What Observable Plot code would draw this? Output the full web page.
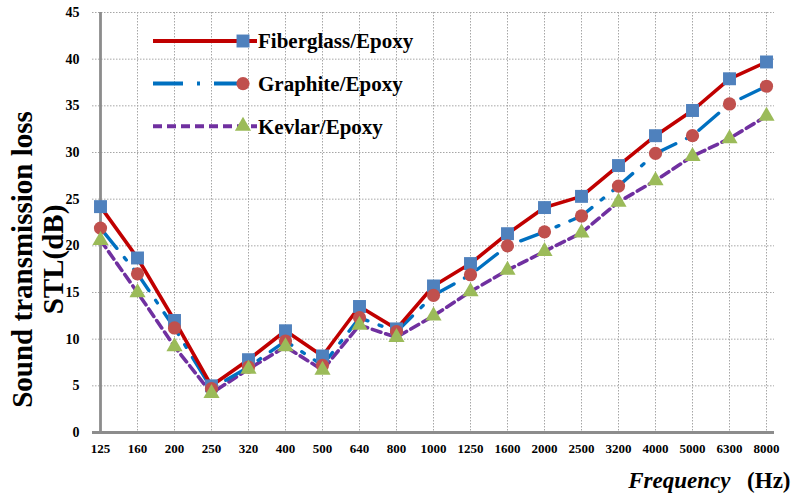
<!DOCTYPE html>
<html>
<head>
<meta charset="utf-8">
<script src="https://cdn.jsdelivr.net/npm/d3@7"></script>
<script src="https://cdn.jsdelivr.net/npm/@observablehq/plot@0.6"></script>
<style>
  html, body { margin: 0; padding: 0; background: #fff; }
  #chart { position: relative; width: 793px; height: 502px; }
  #chart svg { font-family: "Liberation Serif", "Times New Roman", serif; }
  g[aria-label^="x-axis"] text { font-size: 13px; font-weight: bold; }
  g[aria-label^="y-axis"] text { font-size: 14px; font-weight: bold; }
</style>
</head>
<body>
<div id="chart"></div>
<script>
const frequencies = ["125","160","200","250","320","400","500","640","800","1000","1250","1600","2000","2500","3200","4000","5000","6300","8000"];
const fiberglass = [24.2,18.7,12.0,5.0,7.8,10.9,8.2,13.5,11.1,15.7,18.1,21.3,24.1,25.3,28.6,31.8,34.5,37.9,39.7];
const graphite   = [21.9,17.0,11.2,4.7,7.0,9.8,7.2,12.3,10.8,14.7,16.9,20.0,21.5,23.2,26.4,29.9,31.8,35.2,37.1];
const kevlar     = [20.6,15.0,9.2,4.2,6.8,9.2,6.7,11.5,10.2,12.5,15.1,17.4,19.4,21.4,24.7,27.0,29.6,31.5,33.9];
const seriesNames = ["Fiberglass/Epoxy","Graphite/Epoxy","Kevlar/Epoxy"];
const yTicks = [0,5,10,15,20,25,30,35,40,45];

const toRows = (vals) => frequencies.map((f, i) => ({f, v: vals[i]}));
const fib = toRows(fiberglass), gra = toRows(graphite), kev = toRows(kevlar);

const styles = {
  "Fiberglass/Epoxy": {line: "#c00000", dash: null, width: 3.6, symbol: "square", r: 7.3, fill: "#4f81bd"},
  "Graphite/Epoxy":   {line: "#0070c0", dash: "26,12,3,12", width: 3.4, symbol: "circle", r: 6.6, fill: "#c0504d"},
  "Kevlar/Epoxy":     {line: "#7030a0", dash: "9,5", width: 3.6, symbol: "triangle", r: 6.0, fill: "#9bbb59"}
};

const gridStyle = {stroke: "#a6a6a6", strokeWidth: 1, strokeDasharray: "1.5,1.5"};

const chart = Plot.plot({
  width: 793,
  height: 502,
  marginLeft: 92,
  marginRight: 19,
  marginTop: 12,
  marginBottom: 70,
  style: {background: "white", color: "#000", fontFamily: "Liberation Serif"},
  x: {type: "point", domain: frequencies, padding: 0, tickSize: 0, tickPadding: 11, label: null},
  y: {domain: [0, 45], ticks: yTicks, tickSize: 0, tickPadding: 13, label: null},
  marks: [
    Plot.ruleX(frequencies, gridStyle),
    Plot.ruleY(yTicks, gridStyle),
    Plot.ruleX([frequencies[0]], {stroke: "#8c8c8c", strokeWidth: 2.8}),
    Plot.ruleY([0], {stroke: "#8c8c8c", strokeWidth: 3}),
    Plot.line(kev, {x: "f", y: "v", stroke: styles["Kevlar/Epoxy"].line, strokeWidth: styles["Kevlar/Epoxy"].width, strokeDasharray: styles["Kevlar/Epoxy"].dash}),
    Plot.line(gra, {x: "f", y: "v", stroke: styles["Graphite/Epoxy"].line, strokeWidth: styles["Graphite/Epoxy"].width, strokeDasharray: styles["Graphite/Epoxy"].dash}),
    Plot.line(fib, {x: "f", y: "v", stroke: styles["Fiberglass/Epoxy"].line, strokeWidth: styles["Fiberglass/Epoxy"].width}),
    Plot.dot(fib, {x: "f", y: "v", symbol: "square", r: styles["Fiberglass/Epoxy"].r, fill: styles["Fiberglass/Epoxy"].fill}),
    Plot.dot(gra, {x: "f", y: "v", symbol: "circle", r: styles["Graphite/Epoxy"].r, fill: styles["Graphite/Epoxy"].fill}),
    Plot.dot(kev, {x: "f", y: "v", symbol: "triangle", r: styles["Kevlar/Epoxy"].r, fill: styles["Kevlar/Epoxy"].fill}),
    Plot.text(["Sound transmission loss"], {frameAnchor: "left", textAnchor: "middle", rotate: -90, dx: -70, dy: 37, fontSize: 29, fontWeight: "bold", fill: "#000"}),
    Plot.text(["STL(dB)"], {frameAnchor: "left", textAnchor: "middle", rotate: -90, dx: -39, dy: 37, fontSize: 29, fontWeight: "bold", fill: "#000"}),
    Plot.text(["Frequency"], {frameAnchor: "bottom-right", dx: -44, dy: 55, textAnchor: "end", fontSize: 23, fontWeight: "bold", fontStyle: "italic", fill: "#000"}),
    Plot.text(["(Hz)"], {frameAnchor: "bottom-right", dx: 16, dy: 55, textAnchor: "end", fontSize: 23, fontWeight: "bold", fill: "#000"})
  ]
});

document.getElementById("chart").appendChild(chart);

// Legend drawn inside the plot area
const svg = d3.select(chart);
const legend = svg.append("g").attr("transform", "translate(153,41)");
seriesNames.forEach((name, i) => {
  const s = styles[name];
  const g = legend.append("g").attr("transform", `translate(0,${i * 42.6})`);
  g.append("line").attr("x1", 0).attr("x2", 104).attr("y1", 0).attr("y2", 0)
    .attr("stroke", s.line).attr("stroke-width", 4)
    .attr("stroke-dasharray", name === "Graphite/Epoxy" ? "30,14,3,14" : s.dash);
  const sym = {square: d3.symbolSquare, circle: d3.symbolCircle, triangle: d3.symbolTriangle}[s.symbol];
  g.append("path").attr("transform", "translate(90,0)")
    .attr("d", d3.symbol(sym, Math.PI * s.r * s.r)())
    .attr("fill", s.fill);
  g.append("text").attr("x", 105).attr("y", 0).attr("dy", "0.35em")
    .attr("text-anchor", "start")
    .attr("font-size", 21).attr("font-weight", "bold")
    .attr("font-family", "Liberation Serif").attr("fill", "#000")
    .text(name);
});
</script>
</body>
</html>
